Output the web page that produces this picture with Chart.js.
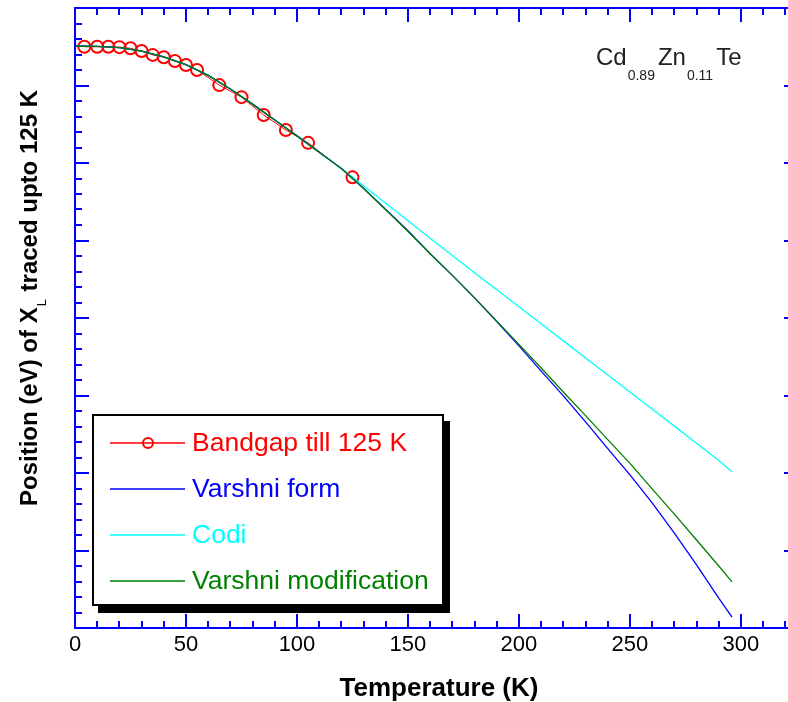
<!DOCTYPE html>
<html>
<head>
<meta charset="utf-8">
<script src="https://cdn.jsdelivr.net/npm/chart.js@4"></script>
<style>
  html, body { margin: 0; padding: 0; overflow: hidden; background: #fff; }
</style>
</head>
<body>
<canvas id="gap-chart" width="810" height="702"></canvas>
<script>
// measured points, Bandgap till 125 K
var markerTemps = [4.2, 10, 15, 20, 25, 30, 35, 40, 45, 50, 55, 65, 75, 85, 95, 105, 125];
var markerEnergy = [1.6100, 1.6100, 1.6100, 1.6099, 1.6096, 1.6089, 1.6079, 1.6073, 1.6063, 1.6053,
                    1.6040, 1.6001, 1.5970, 1.5924, 1.5885, 1.5852, 1.5763];

// fitted curves
var curveTemps = [0, 10, 20, 30, 40, 50, 60, 70, 80, 90, 100, 110, 120, 130, 140, 150, 160, 170, 180,
                  190, 200, 210, 220, 230, 240, 250, 260, 270, 280, 290, 296];
var varshniForm = [1.6102, 1.6101, 1.6098, 1.6089, 1.6074, 1.6054, 1.6026, 1.5991, 1.5952, 1.5911,
                   1.5870, 1.5828, 1.5786, 1.5735, 1.5680, 1.5625, 1.5566, 1.5510, 1.5452, 1.5391,
                   1.5328, 1.5263, 1.5199, 1.5132, 1.5063, 1.4995, 1.4923, 1.4845, 1.4763, 1.4677, 1.4628];
var codi = [1.6102, 1.6101, 1.6098, 1.6089, 1.6074, 1.6054, 1.6026, 1.5991, 1.5952, 1.5911,
            1.5870, 1.5828, 1.5786, 1.5741, 1.5696, 1.5651, 1.5606, 1.5561, 1.5517, 1.5473,
            1.5429, 1.5385, 1.5341, 1.5297, 1.5253, 1.5209, 1.5165, 1.5121, 1.5077, 1.5032, 1.5003];
var varshniMod = [1.6102, 1.6101, 1.6098, 1.6089, 1.6074, 1.6054, 1.6026, 1.5991, 1.5952, 1.5911,
                  1.5870, 1.5828, 1.5786, 1.5734, 1.5679, 1.5623, 1.5566, 1.5510, 1.5452, 1.5392,
                  1.5332, 1.5271, 1.5209, 1.5148, 1.5086, 1.5025, 1.4959, 1.4894, 1.4827, 1.4760, 1.4719];

var xTickValues = [0, 50, 100, 150, 200, 250, 300];
var seriesLabels = ["Bandgap till 125 K", "Varshni form", "Codi", "Varshni modification"];
var seriesColors = ["#ff0000", "#0000ff", "#00ffff", "#008000"];

var X_MAX = 325.7, Y_MIN = 1.46, Y_MAX = 1.62;
var AXIS_BLUE = "#0000ff";
var FONT = "'Liberation Sans', Arial, sans-serif";

function points(xs, ys) {
  return xs.map(function(x, i) { return { x: x, y: ys[i] }; });
}

// box with inward ticks on all four sides
var framePlugin = {
  id: "frame",
  afterDatasetsDraw: function(chart) {
    var ctx = chart.ctx, a = chart.chartArea, xs = chart.scales.x, ys = chart.scales.y;
    ctx.save();
    ctx.strokeStyle = AXIS_BLUE;
    ctx.lineWidth = 2;
    ctx.strokeRect(a.left, a.top, a.right - a.left, a.bottom - a.top);
    ctx.beginPath();
    for (var t = 10; t < X_MAX; t += 10) {
      var px = Math.round(xs.getPixelForValue(t));
      var len = (t % 50 === 0) ? 14 : 7;
      ctx.moveTo(px, a.bottom); ctx.lineTo(px, a.bottom - len);
      ctx.moveTo(px, a.top); ctx.lineTo(px, a.top + len);
    }
    for (var i = 1; i < 40; i++) {
      var py = Math.round(ys.getPixelForValue(Y_MIN + i * 0.004));
      var l2 = (i % 5 === 0) ? 14 : 7;
      ctx.moveTo(a.left, py); ctx.lineTo(a.left + l2, py);
      ctx.moveTo(a.right, py); ctx.lineTo(a.right - l2, py);
    }
    ctx.stroke();
    ctx.restore();
  }
};

// legend box with drop shadow inside the plot
var legendBoxPlugin = {
  id: "legendBox",
  afterDatasetsDraw: function(chart) {
    var ctx = chart.ctx, a = chart.chartArea;
    var bx = a.left + 18, by = a.top + 407, bw = 350, bh = 190;
    ctx.save();
    ctx.fillStyle = "#000";
    ctx.fillRect(bx + 5, by + 6, bw + 2, bh + 2);
    ctx.fillStyle = "#fff";
    ctx.fillRect(bx, by, bw, bh);
    ctx.strokeStyle = "#000";
    ctx.lineWidth = 2;
    ctx.strokeRect(bx, by, bw, bh);
    ctx.font = "26.5px " + FONT;
    ctx.textBaseline = "middle";
    chart.data.datasets.forEach(function(ds, i) {
      var ry = by + 28 + i * 46;
      ctx.strokeStyle = ds.borderColor;
      ctx.lineWidth = 1.5;
      ctx.beginPath();
      ctx.moveTo(bx + 17, ry); ctx.lineTo(bx + 92, ry);
      ctx.stroke();
      if (ds.pointRadius > 0) {
        ctx.lineWidth = 2;
        ctx.beginPath();
        ctx.arc(bx + 55, ry, 5, 0, Math.PI * 2);
        ctx.stroke();
      }
      ctx.fillStyle = ds.borderColor;
      ctx.fillText(ds.label, bx + 99, ry + 1);
    });
    ctx.restore();
  }
};

// axis titles and the composition label
var textPlugin = {
  id: "texts",
  afterDraw: function(chart) {
    var ctx = chart.ctx;
    ctx.save();
    ctx.fillStyle = "#000";
    ctx.textBaseline = "alphabetic";

    ctx.font = "bold 26px " + FONT;
    ctx.textAlign = "center";
    ctx.fillText("Temperature (K)", 439, 696);

    // rotated y title with subscript L
    var partA = "Position (eV) of X", partB = " traced upto 125 K";
    ctx.font = "bold 24px " + FONT;
    var wA = ctx.measureText(partA).width, wB = ctx.measureText(partB).width;
    ctx.font = "13px " + FONT;
    var wL = ctx.measureText("L").width + 2;
    var total = wA + wL + wB;
    ctx.translate(37, 298);
    ctx.rotate(-Math.PI / 2);
    ctx.textAlign = "left";
    var sx = -total / 2;
    ctx.font = "bold 24px " + FONT;
    ctx.fillText(partA, sx, 0);
    ctx.font = "13px " + FONT;
    ctx.fillText("L", sx + wA + 1, 9);
    ctx.font = "bold 24px " + FONT;
    ctx.fillText(partB, sx + wA + wL, 0);
    ctx.setTransform(1, 0, 0, 1, 0, 0);

    // Cd0.89Zn0.11Te
    var parts = [["Cd", 24, 0], ["0.89", 14, 15], ["Zn", 24, 0], ["0.11", 14, 15], ["Te", 24, 0]];
    var cx = 596;
    parts.forEach(function(p) {
      ctx.font = p[1] + "px " + FONT;
      ctx.fillStyle = "#222";
      ctx.fillText(p[0], cx, 65 + p[2]);
      cx += ctx.measureText(p[0]).width + (p[1] === 14 ? 3 : 1);
    });
    ctx.restore();
  }
};

var gapCanvas = document.getElementById("gap-chart").getContext("2d");
var gapChart = new Chart(gapCanvas, {
  type: "line",
  data: {
    datasets: [{
      label: seriesLabels[0],
      data: points(markerTemps, markerEnergy),
      borderColor: seriesColors[0],
      borderWidth: 1,
      pointRadius: 6,
      pointBorderWidth: 2,
      pointBorderColor: seriesColors[0],
      pointBackgroundColor: "rgba(0,0,0,0)",
      order: 4
    }, {
      label: seriesLabels[1],
      data: points(curveTemps, varshniForm),
      borderColor: seriesColors[1],
      borderWidth: 1.3,
      pointRadius: 0,
      order: 2
    }, {
      label: seriesLabels[2],
      data: points(curveTemps, codi),
      borderColor: seriesColors[2],
      borderWidth: 1.3,
      pointRadius: 0,
      order: 3
    }, {
      label: seriesLabels[3],
      data: points(curveTemps, varshniMod),
      borderColor: seriesColors[3],
      borderWidth: 1.3,
      pointRadius: 0,
      order: 1
    }]
  },
  options: {
    responsive: false,
    animation: false,
    layout: { padding: { top: 8, right: 12, left: 0, bottom: 0 } },
    plugins: {
      legend: { display: false },
      tooltip: { enabled: false }
    },
    scales: {
      x: {
        type: "linear",
        min: 0,
        max: X_MAX,
        afterBuildTicks: function(s) { s.ticks = xTickValues.map(function(v) { return { value: v }; }); },
        afterFit: function(s) { s.height = 74; },
        grid: { display: false, drawTicks: false },
        border: { display: false },
        ticks: {
          padding: 4,
          color: "#000",
          maxRotation: 0,
          font: { family: FONT, size: 22 }
        }
      },
      y: {
        type: "linear",
        min: Y_MIN,
        max: Y_MAX,
        afterFit: function(s) { s.width = 75; },
        grid: { display: false, drawTicks: false },
        border: { display: false },
        ticks: { display: false }
      }
    }
  },
  plugins: [framePlugin, legendBoxPlugin, textPlugin]
});
</script>
</body>
</html>
